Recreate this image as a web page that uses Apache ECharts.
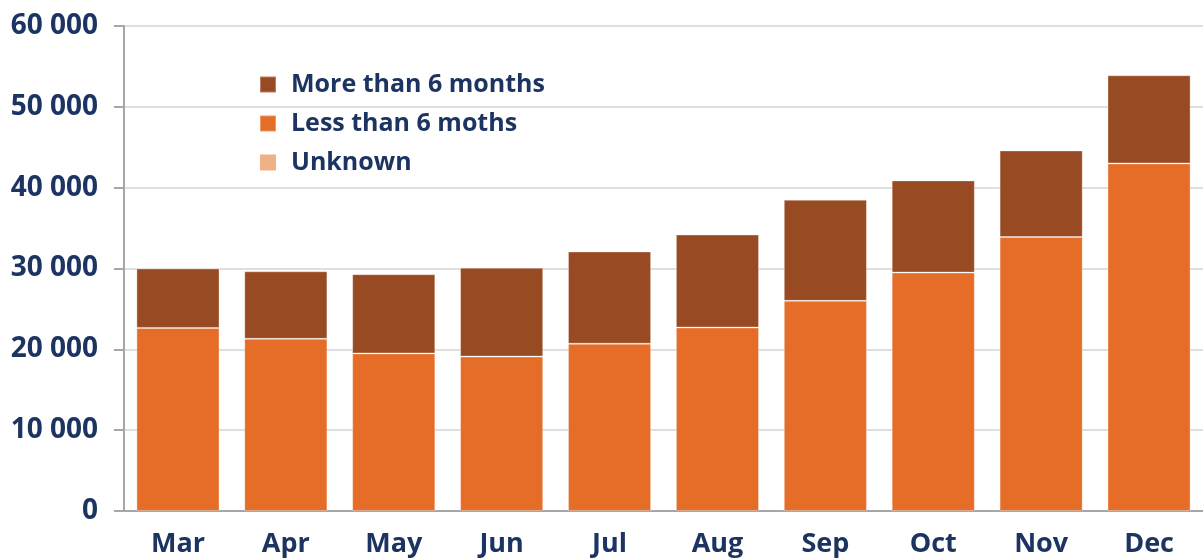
<!DOCTYPE html>
<html>
<head>
<meta charset="utf-8">
<script src="https://cdn.jsdelivr.net/npm/echarts@6/dist/echarts.min.js"></script>
<style>
  html, body { margin: 0; padding: 0; background: #ffffff; }
  #chart { width: 1203px; height: 558px; }
</style>
</head>
<body>
<div id="chart"></div>
<script>
// Monthly counts, split by duration
const months = ['Mar', 'Apr', 'May', 'Jun', 'Jul', 'Aug', 'Sep', 'Oct', 'Nov', 'Dec'];
const lessThan6 = [22650, 21300, 19500, 19100, 20700, 22700, 26000, 29500, 33900, 43000];
const moreThan6 = [7350, 8350, 9800, 11000, 11400, 11500, 12500, 11400, 10700, 10900];
const unknown   = [0, 0, 0, 0, 0, 0, 0, 0, 0, 0];
const seriesNames = ['More than 6 months', 'Less than 6 moths', 'Unknown'];

const textColor = '#1c3461';
const fontFamily = '"Open Sans", "DejaVu Sans", sans-serif';

// Spaced thousands: 60000 -> "60 000"
function spaced(v) {
  return String(v).replace(/\B(?=(\d{3})+(?!\d))/g, ' ');
}

const barBorder = { borderColor: 'rgba(255,255,255,0.3)', borderWidth: 1 };

const chart = echarts.init(document.getElementById('chart'), null, { renderer: 'canvas' });
chart.setOption({
  animation: false,
  backgroundColor: '#ffffff',
  grid: { left: 124, right: -3, top: 26, bottom: 46, containLabel: false },
  legend: {
    data: seriesNames,
    orient: 'vertical',
    left: 259,
    top: 72,
    padding: 0,
    icon: 'rect',
    itemWidth: 16,
    itemHeight: 16,
    itemGap: 14,
    selectedMode: false,
    textStyle: {
      color: textColor,
      fontFamily: fontFamily,
      fontWeight: 'bold',
      fontSize: 25,
      lineHeight: 25,
      padding: [0, 0, 0, 10]
    }
  },
  xAxis: {
    type: 'category',
    data: months,
    axisLine: { show: true, lineStyle: { color: '#a6a6a6', width: 2 } },
    axisTick: { show: false },
    axisLabel: {
      color: textColor,
      fontFamily: fontFamily,
      fontWeight: 'bold',
      fontSize: 27,
      margin: 20
    }
  },
  yAxis: {
    type: 'value',
    min: 0,
    max: 60000,
    interval: 10000,
    axisLine: { show: true, lineStyle: { color: '#a6a6a6', width: 2 } },
    axisTick: { show: true, length: 10, lineStyle: { color: '#a6a6a6', width: 2 } },
    splitLine: { show: true, lineStyle: { color: '#d4d4d4', width: 1.5 } },
    axisLabel: {
      color: textColor,
      fontFamily: fontFamily,
      fontWeight: 'bold',
      fontSize: 28,
      margin: 26,
      formatter: spaced
    }
  },
  series: [
    {
      name: seriesNames[1],
      type: 'bar',
      stack: 'total',
      data: lessThan6,
      barCategoryGap: '23%',
      itemStyle: Object.assign({ color: '#e56d28' }, barBorder)
    },
    {
      name: seriesNames[0],
      type: 'bar',
      stack: 'total',
      data: moreThan6,
      itemStyle: Object.assign({ color: '#984a22' }, barBorder)
    },
    {
      name: seriesNames[2],
      type: 'bar',
      stack: 'total',
      data: unknown,
      itemStyle: { color: '#f0b184' }
    }
  ]
});
</script>
</body>
</html>
